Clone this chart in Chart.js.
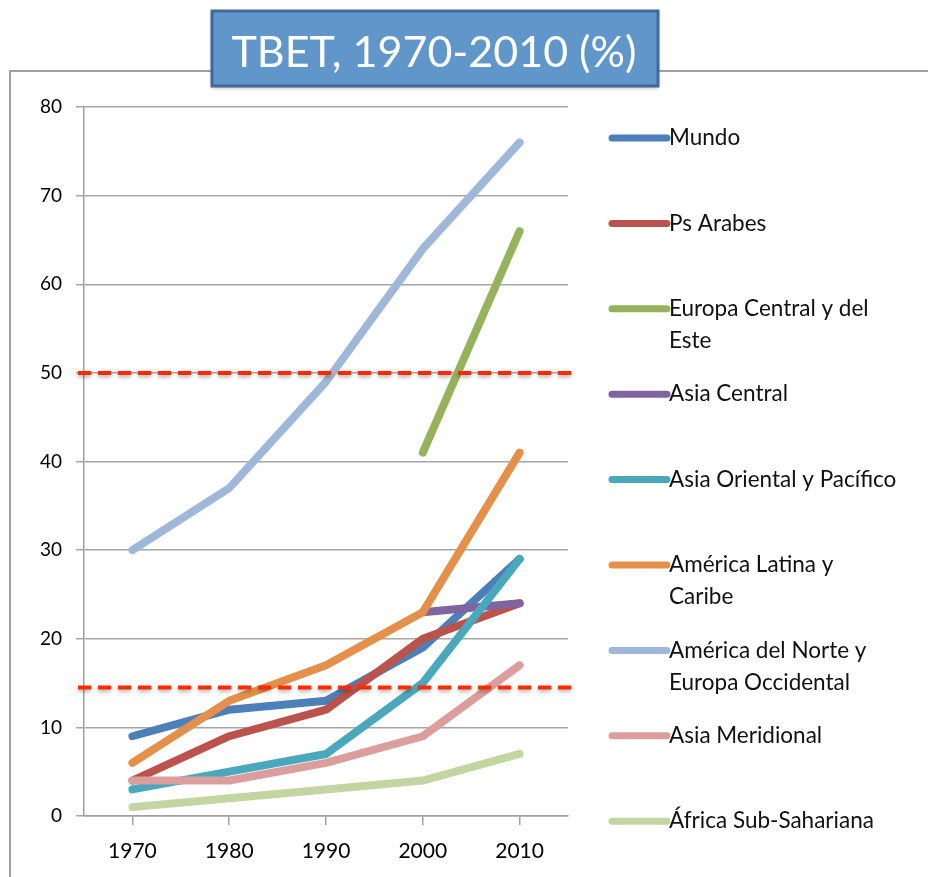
<!DOCTYPE html>
<html>
<head>
<meta charset="utf-8">
<script src="https://cdn.jsdelivr.net/npm/chart.js@4.4.1/dist/chart.umd.min.js"></script>
<style>
    html, body { margin: 0; padding: 0; background: #fff; }
    #wrap { position: relative; width: 928px; height: 877px; }
</style>
</head>
<body>
<div id="wrap"><canvas id="tbetChart" width="928" height="877"></canvas></div>
<script>
// datos
const years = ['1970', '1980', '1990', '2000', '2010'];
const seriesNames = [
    ['Mundo'],
    ['Ps Arabes'],
    ['Europa Central y del', 'Este'],
    ['Asia Central'],
    ['Asia Oriental y Pacífico'],
    ['América Latina y', 'Caribe'],
    ['América del Norte y', 'Europa Occidental'],
    ['Asia Meridional'],
    ['África Sub-Sahariana'],
];
const mundo = [9, 12, 13, 19, 29];
const psArabes = [4, 9, 12, 20, 24];
const europaCentral = [null, null, null, 41, 66];
const asiaCentral = [null, null, null, 23, 24];
const asiaOriental = [3, 5, 7, 15, 29];
const americaLatina = [6, 13, 17, 23, 41];
const americaNorte = [30, 37, 49, 64, 76];
const asiaMeridional = [4, 4, 6, 9, 17];
const africaSub = [1, 2, 3, 4, 7];
const yTicks = [0, 10, 20, 30, 40, 50, 60, 70, 80];
const referenceLines = [50, 14.5];

const seriesValues = [mundo, psArabes, europaCentral, asiaCentral, asiaOriental,
    americaLatina, americaNorte, asiaMeridional, africaSub];
const colors = ['#4d7fb9', '#bb524c', '#94b35a', '#7f64a0', '#4aa8bd',
    '#e4904a', '#9fb8d9', '#db9e9c', '#c3d5a1'];

const FONT = 'Lato, "Open Sans", sans-serif';

const datasets = seriesValues.map((vals, i) => ({
    label: seriesNames[i].join(' '),
    data: vals,
    borderColor: colors[i],
    backgroundColor: colors[i],
    borderWidth: 8,
    borderCapStyle: 'round',
    borderJoinStyle: 'round',
    pointRadius: 0,
    tension: 0,
    spanGaps: false,
    order: seriesValues.length - i, // la ultima serie va encima, como en Excel
}));

// marco exterior del grafico
const framePlugin = {
    id: 'frame',
    beforeDraw(chart) {
        const ctx = chart.ctx;
        ctx.save();
        ctx.fillStyle = '#fff';
        ctx.fillRect(0, 0, chart.width, chart.height);
        ctx.strokeStyle = '#a0a0a0';
        ctx.lineWidth = 2;
        ctx.beginPath();
        ctx.moveTo(10, chart.height);
        ctx.lineTo(10, 71);
        ctx.lineTo(chart.width, 71);
        ctx.stroke();
        ctx.restore();
    },
};

// lineas rojas discontinuas
const refLinesPlugin = {
    id: 'refLines',
    afterDatasetsDraw(chart) {
        const ctx = chart.ctx;
        const area = chart.chartArea;
        const y = chart.scales.y;
        ctx.save();
        ctx.strokeStyle = '#ff2a00';
        ctx.lineWidth = 4;
        ctx.setLineDash([13, 7]);
        ctx.shadowColor = 'rgba(0,0,0,0.35)';
        ctx.shadowBlur = 4;
        ctx.shadowOffsetY = 2;
        referenceLines.forEach((v) => {
            const py = y.getPixelForValue(v);
            ctx.beginPath();
            ctx.moveTo(area.left - 6, py);
            ctx.lineTo(area.right + 4, py);
            ctx.stroke();
        });
        ctx.restore();
    },
};

// leyenda a la derecha
const legendPlugin = {
    id: 'sideLegend',
    afterDraw(chart) {
        const ctx = chart.ctx;
        const x0 = 612, x1 = 667, tx = 669;
        const top = 138, step = 85.4, lineH = 32;
        ctx.save();
        ctx.font = '22.5px ' + FONT;
        ctx.textBaseline = 'middle';
        chart.data.datasets.forEach((ds, i) => {
            const cy = top + i * step;
            ctx.strokeStyle = ds.borderColor;
            ctx.lineWidth = 7;
            ctx.lineCap = 'round';
            ctx.beginPath();
            ctx.moveTo(x0, cy);
            ctx.lineTo(x1, cy);
            ctx.stroke();
            ctx.fillStyle = '#111';
            seriesNames[i].forEach((line, j) => {
                ctx.fillText(line, tx, cy + j * lineH);
            });
        });
        ctx.restore();
    },
};

// caja del titulo
const titlePlugin = {
    id: 'titleBox',
    afterDraw(chart) {
        const ctx = chart.ctx;
        ctx.save();
        ctx.shadowColor = 'rgba(0,0,0,0.3)';
        ctx.shadowBlur = 4;
        ctx.shadowOffsetY = 2;
        ctx.fillStyle = '#6096c9';
        ctx.fillRect(212, 11, 446, 75);
        ctx.shadowColor = 'transparent';
        ctx.strokeStyle = '#43699a';
        ctx.lineWidth = 3;
        ctx.strokeRect(212, 11, 446, 75);
        ctx.fillStyle = '#fff';
        ctx.font = '43px ' + FONT;
        ctx.textAlign = 'center';
        ctx.textBaseline = 'middle';
        ctx.fillText('TBET, 1970-2010 (%)', 434, 53);
        ctx.restore();
    },
};

new Chart(document.getElementById('tbetChart'), {
    type: 'line',
    data: { labels: years, datasets: datasets },
    options: {
        responsive: false,
        animation: false,
        layout: { padding: { top: 107, right: 360, bottom: 0, left: 0 } },
        plugins: {
            legend: { display: false },
            tooltip: { enabled: false },
            title: { display: false },
        },
        scales: {
            x: {
                type: 'category',
                offset: true,
                grid: {
                    drawOnChartArea: false,
                    drawTicks: true,
                    tickLength: 9,
                    color: '#a0a0a0',
                    lineWidth: 1.5,
                },
                border: { color: '#a0a0a0', width: 1.5 },
                ticks: { color: '#000', font: { family: FONT, size: 21 }, padding: 14 },
                afterFit(scale) { scale.height = 61; },
            },
            y: {
                min: 0,
                max: 80,
                afterBuildTicks(scale) { scale.ticks = yTicks.map((v) => ({ value: v })); },
                grid: { color: '#a6a6a6', lineWidth: 1.5, tickLength: 8 },
                border: { color: '#a0a0a0', width: 1.5 },
                ticks: { color: '#000', font: { family: FONT, size: 19 }, padding: 14 },
                afterFit(scale) { scale.width = 84; },
            },
        },
    },
    plugins: [framePlugin, refLinesPlugin, legendPlugin, titlePlugin],
});
</script>
</body>
</html>
